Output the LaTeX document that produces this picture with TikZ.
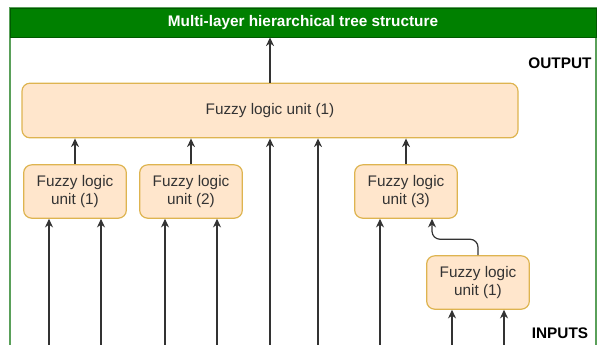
\documentclass[tikz,border=0pt]{standalone}
\usepackage{fontspec}
\setmainfont{Liberation Sans}
\usetikzlibrary{arrows.meta,positioning}
\definecolor{hdrgreen}{RGB}{0,128,0}
\definecolor{framegreen}{RGB}{90,160,90}
\definecolor{unitfill}{RGB}{255,230,204}
\definecolor{unitline}{RGB}{222,180,80}
\definecolor{wire}{RGB}{51,51,51}

\begin{document}
\begin{tikzpicture}[x=0.75pt,y=0.75pt,yscale=-1,xscale=1,
  every node/.style={font=\fontsize{11.5}{13.5}\selectfont, text=wire},
  unit/.style={draw=unitline, fill=unitfill, line width=0.9pt, rounded corners=6pt,
    align=center, inner sep=0pt, minimum width=77pt, minimum height=40pt},
  arr/.style={draw=wire, line width=0.9pt, -{Stealth[length=6.5pt,width=6pt]}},
  lbl/.style={font=\fontsize{11.5}{13.5}\selectfont\bfseries, text=black}]
\useasboundingbox (0,0) rectangle (598,344);
\clip (0,0) rectangle (598,344);

%Shape: Frame
\draw [framegreen, line width=0.9pt] (10,8) rectangle (596,400) ;
% Text Node: header
\node [fill=hdrgreen, draw=hdrgreen!70!black, line width=0.6pt, minimum width=439.5pt, minimum height=21.75pt, inner sep=0pt, font=\fontsize{11.5}{13.5}\selectfont\bfseries, text=white] (hdr) at (303,22.5) {Multi-layer hierarchical tree structure};

%Rounded Rect: top unit
\node [unit, minimum width=372pt, minimum height=41pt] (top) at (270,110.5) {Fuzzy logic unit (1)};
%Rounded Rect: lower units
\node [unit] (u1) at (75,191.5) {Fuzzy logic\\unit (1)};
\node [unit] (u2) at (191,191.5) {Fuzzy logic\\unit (2)};
\node [unit] (u3) at (406,191.5) {Fuzzy logic\\unit (3)};
\node [unit] (u4) at (478,282.5) {Fuzzy logic\\unit (1)};

% Text Node
\node [lbl] (outlbl) at (560,63) {OUTPUT};
% Text Node
\node [lbl] (inlbl) at (560,333) {INPUTS};

%Input coordinates
\coordinate (in1) at (49,360);
\coordinate (in2) at (101,360);
\coordinate (in3) at (165,360);
\coordinate (in4) at (217,360);
\coordinate (in5) at (270,360);
\coordinate (in6) at (318,360);
\coordinate (in7) at (380,360);
\coordinate (in8) at (452,360);
\coordinate (in9) at (504,360);

%Straight Lines: output
\draw [arr] (top.north) -- (top.north |- hdr.south) ;
%Straight Lines: units to top
\draw [arr] (u1.north) -- (u1.north |- top.south) ;
\draw [arr] (u2.north) -- (u2.north |- top.south) ;
\draw [arr] (u3.north) -- (u3.north |- top.south) ;
%Straight Lines: inputs
\draw [arr] (in1) -- (in1 |- u1.south) ;
\draw [arr] (in2) -- (in2 |- u1.south) ;
\draw [arr] (in3) -- (in3 |- u2.south) ;
\draw [arr] (in4) -- (in4 |- u2.south) ;
\draw [arr] (in5) -- (in5 |- top.south) ;
\draw [arr] (in6) -- (in6 |- top.south) ;
\draw [arr] (in7) -- (in7 |- u3.south) ;
\draw [arr] (in8) -- (in8 |- u4.south) ;
\draw [arr] (in9) -- (in9 |- u4.south) ;
%Connector: u4 to u3
\draw [arr, rounded corners=6pt] (u4.north) -- ++(0,-16) -| ([xshift=19.5pt]u3.south) ;

\end{tikzpicture}
\end{document}
